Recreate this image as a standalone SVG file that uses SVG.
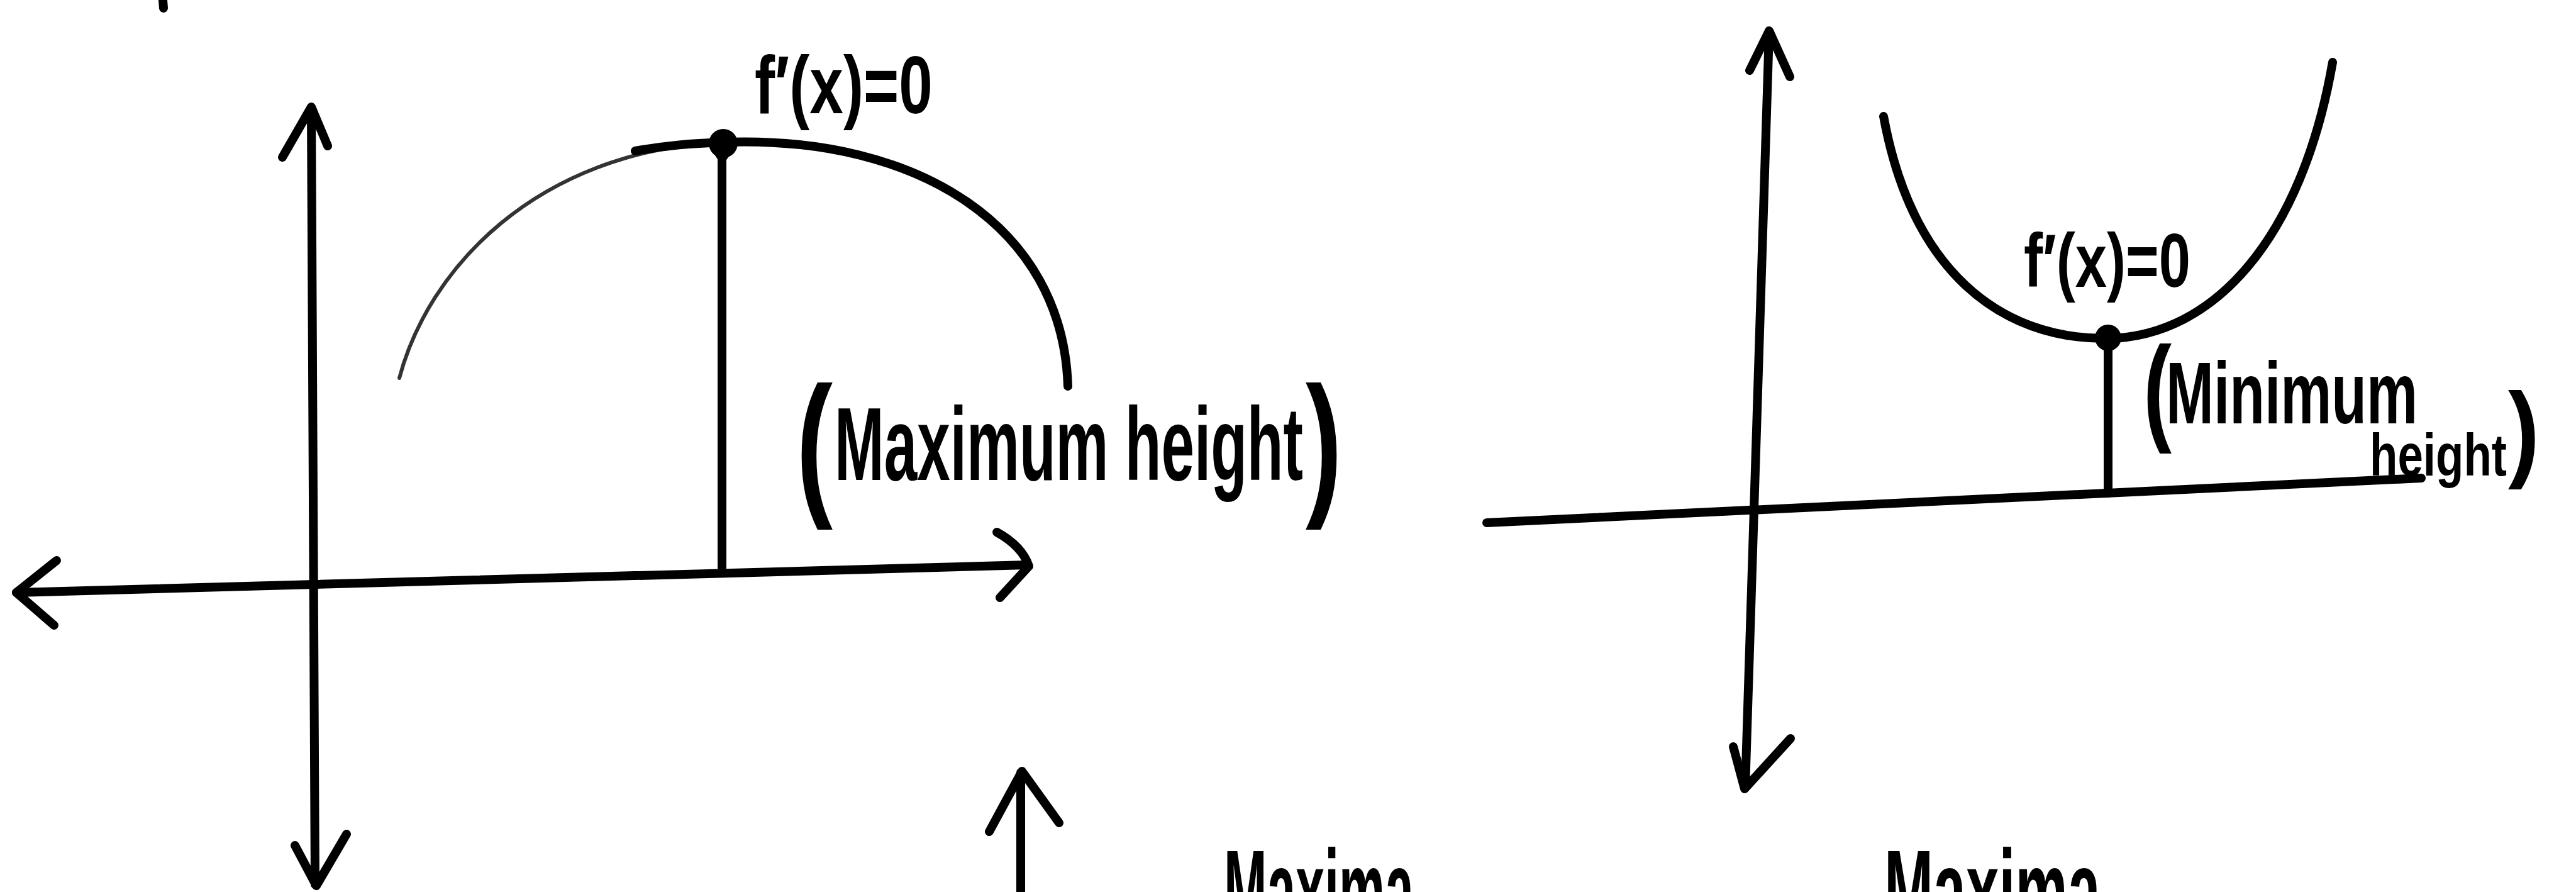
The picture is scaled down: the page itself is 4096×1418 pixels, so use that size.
<svg xmlns="http://www.w3.org/2000/svg" width="4096" height="1418" viewBox="0 0 4096 1418">
<style>
.ink{fill:none;stroke:#000;stroke-width:14;stroke-linecap:round;stroke-linejoin:round}
.thin{fill:none;stroke:#333;stroke-width:6;stroke-linecap:round}
.lbl{font-family:"Liberation Sans",Arial,sans-serif;font-weight:bold;fill:#000}
</style>
<rect width="4096" height="1418" fill="#fff"/>
<g id="mark">
<path class="ink" d="M259,0 L260,13"/>
</g>
<g id="connectors">
<!-- left graph axes -->
<path class="ink" d="M495,172 L501,1406"/>
<path class="ink" d="M449,250 L495,170 L521,232"/>
<path class="ink" d="M469,1344 L503,1408 L551,1326"/>
<path class="ink" d="M26,942 Q700,926 1634,898"/>
<path class="ink" d="M90,891 L26,942 L86,994"/>
<path class="ink" d="M1585,846 Q1625,868 1636,900 L1590,950"/>
<!-- right graph axes -->
<path class="ink" d="M2813,52 L2775,1252"/>
<path class="ink" d="M2782,112 L2813,49 L2846,122"/>
<path class="ink" d="M2756,1187 L2774,1254 L2847,1174"/>
<path class="ink" d="M2364,831 L3850,760"/>
<!-- bottom up arrow -->
<path class="ink" d="M1623,1228 L1623,1430"/>
<path class="ink" d="M1573,1322 L1625,1226 L1684,1308"/>
</g>
<g id="max-curve">
<path class="thin" d="M635,601 C680,430 850,240 1150,226"/>
<path class="ink" d="M1010,240 C1060,231 1100,228 1150,226 C1460,215 1690,360 1698,614"/>
<path class="ink" d="M1148,226 L1148,902"/>
<circle cx="1150" cy="228" r="23" fill="#000"/>
<path d="M1130,236 L1148,264 L1168,236 Z" fill="#000"/>
</g>
<g id="max-labels">
<text class="lbl" x="1200" y="180" font-size="130" textLength="283" lengthAdjust="spacingAndGlyphs">f′(x)=0</text>
<text class="lbl"><tspan x="1266" y="790" font-size="250" textLength="58" lengthAdjust="spacingAndGlyphs">(</tspan><tspan x="1327" y="763" font-size="165" textLength="745" lengthAdjust="spacingAndGlyphs">Maximum height</tspan><tspan x="2076" y="790" font-size="250" textLength="58" lengthAdjust="spacingAndGlyphs">)</tspan></text>
</g>
<g id="min-curve">
<path class="ink" d="M2995,185 C3040,430 3180,540 3352,538 C3520,535 3660,380 3709,99"/>
<path class="ink" d="M3352,537 L3352,784"/>
<circle cx="3352" cy="537" r="21" fill="#000"/>
</g>
<g id="min-labels">
<text class="lbl" x="3218" y="456" font-size="120" textLength="265" lengthAdjust="spacingAndGlyphs">f′(x)=0</text>
<text class="lbl"><tspan x="3408" y="682" font-size="188" textLength="45" lengthAdjust="spacingAndGlyphs">(</tspan><tspan x="3444" y="673" font-size="140" textLength="400" lengthAdjust="spacingAndGlyphs">Minimum</tspan><tspan x="3768" y="756" font-size="95" textLength="218" lengthAdjust="spacingAndGlyphs">height</tspan><tspan x="3988" y="743" font-size="168" textLength="50" lengthAdjust="spacingAndGlyphs">)</tspan></text>
</g>
<g id="bottom-labels">
<text class="lbl" x="1946" y="1477" font-size="180" textLength="302" lengthAdjust="spacingAndGlyphs">Maxima</text>
<text class="lbl" x="2996" y="1477" font-size="180" textLength="344" lengthAdjust="spacingAndGlyphs">Maxima</text>
</g>
</svg>
